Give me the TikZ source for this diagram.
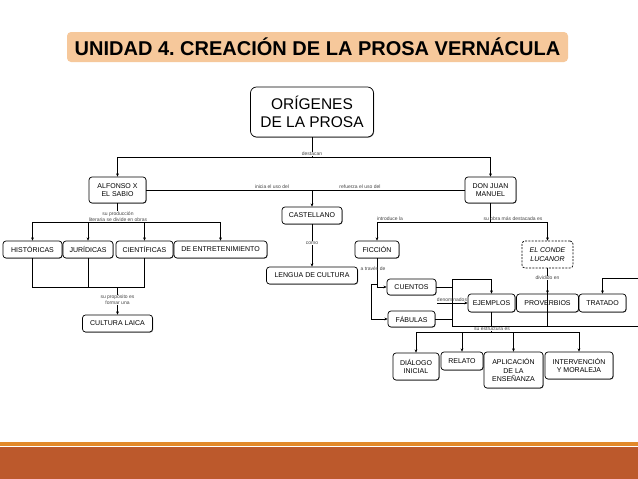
\documentclass[tikz,border=0pt]{standalone}
\usepackage{fontspec}
\setmainfont{Liberation Sans}
\usetikzlibrary{arrows.meta,shadows}
\definecolor{titlefill}{RGB}{246,200,155}
\definecolor{stripe}{RGB}{226,137,42}
\definecolor{barbrown}{RGB}{188,89,44}
\definecolor{lblgray}{RGB}{70,70,70}
\begin{document}
\frenchspacing
\begin{tikzpicture}[x=1pt,y=-1pt,
 box/.style={draw=black, line width=0.7pt, rounded corners=3pt, fill=white, align=center, font=\fontsize{7}{8.5}\selectfont, inner sep=0pt},
 sbox/.style={box, drop shadow={shadow xshift=0.6pt, shadow yshift=-0.6pt, fill=black!55, opacity=1}},
 lbl/.style={font=\fontsize{5}{6}\selectfont, text=lblgray, inner sep=0.4pt, align=center},
 conn/.style={line width=0.6pt},
 arr/.style={conn, -{Stealth[length=3.2pt,width=2.8pt]}},
]
\useasboundingbox (0,0) rectangle (638,479);
\clip (0,0) rectangle (638,479);
\fill[white] (0,0) rectangle (638,479);

% title
\node[fill=titlefill, rounded corners=4pt, minimum width=501pt, minimum height=30pt, inner sep=0pt,
  font=\bfseries\fontsize{20}{22}\selectfont] (title) at (317.5,47) {UNIDAD 4. CREACIÓN DE LA PROSA VERNÁCULA};

% bottom bar
\fill[barbrown] (0,447) rectangle (638,479);
\fill[stripe] (0,442) rectangle (638,446);

% nodes
\node[sbox, rounded corners=6pt, minimum width=123pt, minimum height=50pt, font=\fontsize{15.5}{18}\selectfont] (orig) at (312,112) {ORÍGENES\\DE LA PROSA};
\node[sbox, minimum width=57pt, minimum height=26pt] (alf) at (117.5,190) {ALFONSO X\\EL SABIO};
\node[sbox, minimum width=51pt, minimum height=26pt] (djm) at (490.5,190) {DON JUAN\\MANUEL};
\node[sbox, minimum width=60pt, minimum height=17pt] (cast) at (312,215.5) {CASTELLANO};
\node[sbox, minimum width=91pt, minimum height=17pt] (lengua) at (312,275.5) {LENGUA DE CULTURA};
\node[sbox, minimum width=59pt, minimum height=17pt] (hist) at (32.5,249.5) {HISTÓRICAS};
\node[sbox, minimum width=50pt, minimum height=17pt] (jur) at (88,249.5) {JURÍDICAS};
\node[sbox, minimum width=57pt, minimum height=17pt] (cien) at (144.5,249.5) {CIENTÍFICAS};
\node[sbox, minimum width=93pt, minimum height=17pt] (entre) at (220.5,249.5) {DE ENTRETENIMIENTO};
\node[sbox, minimum width=70pt, minimum height=17pt] (laica) at (117.5,323.5) {CULTURA LAICA};
\node[sbox, minimum width=44pt, minimum height=17pt] (ficcion) at (377,249.5) {FICCIÓN};
\node[box, dash pattern=on 2pt off 1.3pt, minimum width=51pt, minimum height=27pt, font=\itshape\fontsize{7}{9}\selectfont] (lucanor) at (547.5,254.5) {EL CONDE\\LUCANOR};
\node[sbox, minimum width=49pt, minimum height=16pt] (cuentos) at (411.5,287) {CUENTOS};
\node[sbox, minimum width=47pt, minimum height=16pt] (fabulas) at (411.5,319) {FÁBULAS};
\node[sbox, minimum width=47pt, minimum height=18pt] (ejemplos) at (491.5,303) {EJEMPLOS};
\node[sbox, minimum width=62pt, minimum height=18pt] (proverbios) at (547.5,303) {PROVERBIOS};
\node[sbox, minimum width=47pt, minimum height=18pt] (tratado) at (602.5,303) {TRATADO};
\node[sbox, minimum width=46pt, minimum height=27pt] (dialogo) at (416,366.5) {DIÁLOGO\\INICIAL};
\node[sbox, minimum width=42pt, minimum height=18pt] (relato) at (462,361) {RELATO};
\node[sbox, minimum width=59pt, minimum height=36pt] (aplic) at (513.5,370) {APLICACIÓN\\DE LA\\ENSEÑANZA};
\node[sbox, minimum width=68pt, minimum height=27pt] (interv) at (579,365.5) {INTERVENCIÓN\\Y MORALEJA};

% connectors
\coordinate (d1) at (312,157);
\draw[conn] (orig.south) -- (d1);
\draw[arr] (d1) -| (alf.north);
\draw[arr] (d1) -| (djm.north);

\draw[conn] (alf.east) -- (djm.west);
\coordinate (c1) at (312,190);
\draw[arr] (c1) -- (cast.north);
\draw[arr] (cast.south) -- (lengua.north);

\coordinate (a1) at (117.5,222);
\draw[conn] (alf.south) -- (a1);
\draw[arr] (a1) -| (hist.north);
\draw[arr] (a1) -| (jur.north);
\draw[arr] (a1) -| (cien.north);
\draw[arr] (a1) -| (entre.north);

\coordinate (b1) at (117.5,287);
\draw[conn] (hist.south) |- (b1);
\draw[conn] (jur.south) |- (b1);
\draw[conn] (cien.south) |- (b1);
\draw[arr] (b1) -- (laica.north);

\coordinate (e1) at (490.5,222);
\draw[conn] (djm.south) -- (e1);
\draw[arr] (e1) -| (ficcion.north);
\draw[arr] (e1) -| (lucanor.north);

\draw[arr] (ficcion.south) |- (cuentos.west);
\coordinate (f1) at (377,284);
\coordinate (f2) at (371,284);
\draw[arr] (f1) -- (f2) |- (fabulas.west);

\coordinate (g1) at (452,279);
\coordinate (g2) at (452,326);
\draw[conn] (cuentos.east) -- (cuentos.east -| g1);
\draw[conn] (fabulas.east) -- (fabulas.east -| g1);
\draw[conn] (g1) -- (g2);
\draw[arr] (g1) -| (ejemplos.north);
\coordinate (g3) at (660,326);
\coordinate (g4) at (660,278);
\draw[arr] (g2) -- (g3) -- (g4) -| (tratado.north);

\coordinate (h1) at (437,303);
\draw[arr] (h1) -- (ejemplos.west);

\coordinate (l1) at (547.5,326);
\draw[conn] (lucanor.south) -- (l1);
\draw[arr] (lucanor.south) -- (proverbios.north);

\coordinate (k1) at (491.5,332);
\draw[conn] (ejemplos.south) -- (k1);
\draw[arr] (k1) -| (dialogo.north);
\draw[arr] (k1) -| (relato.north);
\draw[arr] (k1) -| (aplic.north);
\draw[arr] (k1) -| (interv.north);

% labels
\node[lbl, fill=white] (ldest) at (312,154) {destacan};
\node[lbl, anchor=south] (linic) at (272,189.5) {inicia el uso del};
\node[lbl, anchor=south] (lrefu) at (360,189.5) {refuerza el uso del};
\node[lbl, fill=white] (lcomo) at (312,243) {como};
\node[lbl, fill=white] (lprod) at (118,216.5) {su producción\\literaria se divide en obras};
\node[lbl, fill=white] (lprop) at (117.5,300) {su propósito es\\formar una};
\node[lbl, anchor=south] (lintro) at (390,221.5) {introduce la};
\node[lbl, anchor=south] (lobra) at (513,221.5) {su obra más destacada es};
\node[lbl] (ltrav) at (373,269) {a través de};
\node[lbl, anchor=south] (lden) at (452,302.5) {denominados};
\node[lbl, fill=white] (ldiv) at (547.5,278) {dividido en};
\node[lbl, fill=white] (lestr) at (492,329) {su estructura es};
\end{tikzpicture}
\end{document}
